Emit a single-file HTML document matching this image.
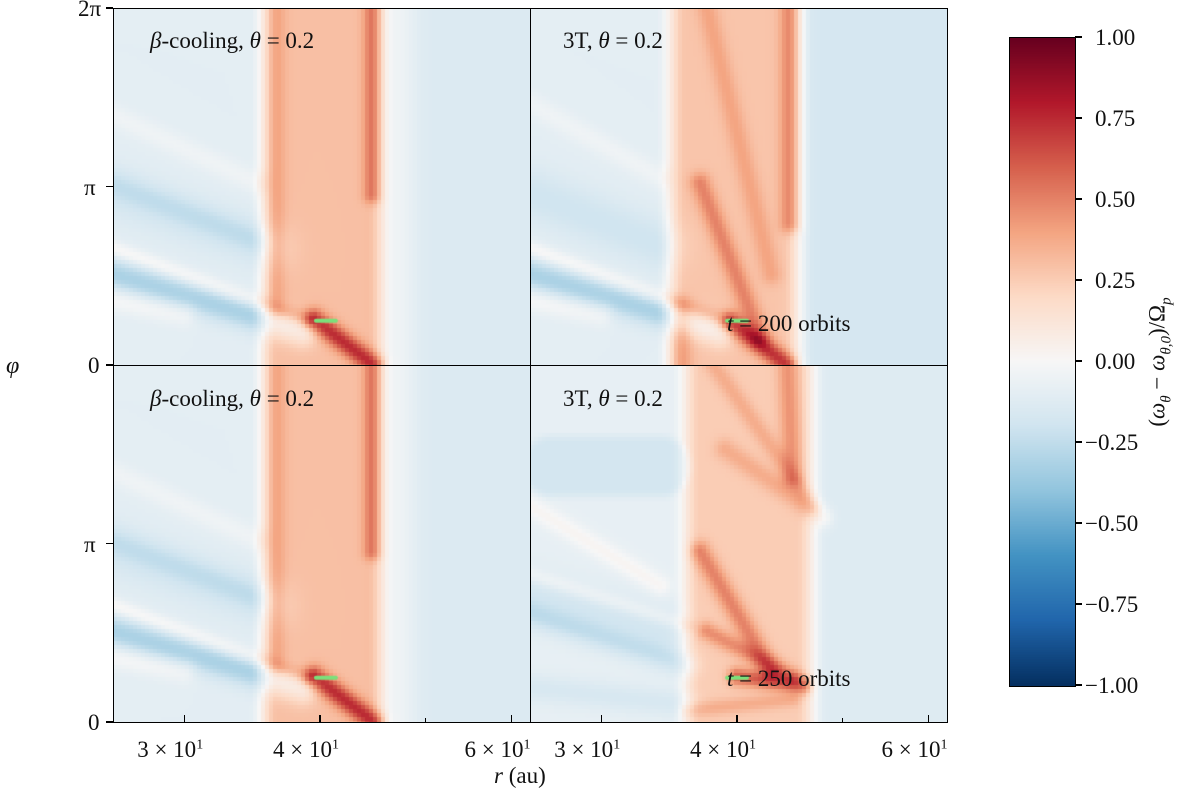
<!DOCTYPE html>
<html><head><meta charset="utf-8">
<style>
body{margin:0;background:#fff;width:1200px;height:796px;overflow:hidden;position:relative;font-family:"Liberation Serif","DejaVu Serif",serif;color:#111}
.t{position:absolute;white-space:nowrap;font-size:23px;line-height:1}
canvas{position:absolute}
.frame{position:absolute;border:1.3px solid #000;box-sizing:border-box}
.tk{position:absolute;background:#000}
i{font-style:italic}
</style></head><body>
<canvas id="p0" style="left:113px;top:8px" width="417" height="357"></canvas>
<canvas id="p1" style="left:530px;top:8px" width="417" height="357"></canvas>
<canvas id="p2" style="left:113px;top:365px" width="417" height="357"></canvas>
<canvas id="p3" style="left:530px;top:365px" width="417" height="357"></canvas>
<canvas id="cb" style="left:1009px;top:37px" width="66" height="649"></canvas>
<div class="frame" style="left:113px;top:8px;width:418px;height:358px"></div>
<div class="frame" style="left:530px;top:8px;width:418px;height:358px"></div>
<div class="frame" style="left:113px;top:365px;width:418px;height:358px"></div>
<div class="frame" style="left:530px;top:365px;width:418px;height:358px"></div>
<div class="frame" style="left:1009px;top:37px;width:67px;height:650px"></div>

<div class="t" style="left:150px;top:29px"><i>β</i>-cooling, <i>θ</i> = 0.2</div>
<div class="t" style="left:563px;top:29px">3T, <i>θ</i> = 0.2</div>
<div class="t" style="left:150px;top:387px"><i>β</i>-cooling, <i>θ</i> = 0.2</div>
<div class="t" style="left:563px;top:387px">3T, <i>θ</i> = 0.2</div>
<div class="t" style="left:727px;top:312px"><i>t</i> = 200 orbits</div>
<div class="t" style="left:727px;top:667px"><i>t</i> = 250 orbits</div>

<div class="t" style="left:6px;top:354px;font-size:24px"><i>φ</i></div>
<div class="t" style="left:494px;top:764px"><i>r</i> (au)</div>
<div class="t" style="left:1160px;top:362px;transform:translate(-50%,-50%) rotate(-90deg);transform-origin:center">(<i>ω<sub style="font-size:15px">θ</sub></i> − <i>ω<sub style="font-size:15px">θ,0</sub></i>)/Ω<sub style="font-size:15px"><i>p</i></sub></div>
<div id="ann"></div>

<script>
// ---- data ----
var rMin = 25.8, rMax = 62.4, phiMax = 2*Math.PI;
var xTickVals = [30, 40, 60];
var xTickLabels = ["3 × 10", "4 × 10", "6 × 10"];
var xMinorVals = [50];
var yTickVals = [0, Math.PI, 2*Math.PI];
var yTickLabels = ["0", "π", "2π"];
var cbTickVals = [1, 0.75, 0.5, 0.25, 0, -0.25, -0.5, -0.75, -1];
var cbTickLabels = ["1.00","0.75","0.50","0.25","0.00","−0.25","−0.50","−0.75","−1.00"];
var planetR = [40.5, 40.0, 40.5, 40.0];
var planetPhi = [0.78, 0.78, 0.78, 0.78];
var baseline = [-0.1, -0.1, -0.1, -0.08];
// features: [r0, phi0, r1, phi1, widthPx, amplitude]
var featTL = [
 [26,3.0,36,2.05,40,-0.08],
 [40.2,0,40.2,6.3,118,0.4],
 [36.5,1.0,36.5,6.3,14,0.1],
 [44.7,3.0,44.7,6.3,14,0.25],
 [47.3,0,47.3,6.3,30,0.08],
 [57,0,57,6.3,180,-0.04],
 [25.8,2.05,39,0.8,12,0.12],
 [25.8,1.6,38.5,0.6,24,-0.22],
 [25.8,1.15,30,0.9,18,0.1],
 [25.8,3.2,35,2.2,22,-0.08],
 [25.8,4.4,35,3.2,18,0.06],
 [39.5,0.8,44.8,0,16,0.45]
];
var featTR = [
 [26,3.0,34,2.1,40,-0.1],
 [39.8,0,39.8,6.3,128,0.38],
 [44.8,2.5,44.8,6.3,16,0.25],
 [37.5,6.3,43,1.6,16,0.12],
 [37,3.2,42,0.5,16,0.22],
 [56,0,56,6.3,200,-0.07],
 [25.8,2.05,39,0.8,12,0.12],
 [25.8,1.6,38.5,0.6,24,-0.22],
 [25.8,1.15,30,0.9,18,0.1],
 [25.8,4.6,34,3.3,18,0.06],
 [39.5,0.75,44.5,0,16,0.45],
 [35.5,0,35.5,1.0,18,0.15]
];
var featBL = featTL;
var featBR = [
 [27,4.5,34,4.5,60,-0.1],
 [26,2.2,34,1.6,40,-0.1],
 [41,0,41,6.3,126,0.33],
 [44.5,6.3,45,4.3,16,0.2],
 [38,6.3,47,3.8,14,0.12],
 [39,4.8,48,3.6,16,0.12],
 [37,3.0,43,0.9,16,0.25],
 [37.5,1.6,45,0.8,14,0.22],
 [25.8,3.8,34,2.4,16,0.1],
 [25.8,2.6,36,1.7,12,0.08],
 [25.8,1.9,36,1.0,20,-0.12],
 [26,0.6,36,0.3,22,-0.08],
 [57,0,57,6.3,180,-0.05],
 [40,0.8,46,0.65,14,0.35],
 [36,0.2,45,0.4,12,0.12]
];
var panelFeats = [featTL, featTR, featBL, featBR];

// RdBu_r colormap stops
var cmapVals = [-1,-0.8,-0.6,-0.4,-0.2,0,0.2,0.4,0.6,0.8,1];
var cmapCols = ["#053061","#2166ac","#4393c3","#92c5de","#d1e5f0","#f7f7f7","#fddbc7","#f4a582","#d6604d","#b2182b","#67001f"];

// ---- scales ----
var PW = 417, PH = 357;
function xScale(r){ return (Math.log10(r)-Math.log10(rMin))/(Math.log10(rMax)-Math.log10(rMin))*PW; }
function yScale(p){ return PH - p/phiMax*PH; }
function hex(c){ return [parseInt(c.substr(1,2),16),parseInt(c.substr(3,2),16),parseInt(c.substr(5,2),16)]; }
var cmapRGB = cmapCols.map(hex);
function cmap(v){
  v = Math.max(-1, Math.min(1, v));
  for (var i=0;i<cmapVals.length-1;i++){
    if (v <= cmapVals[i+1]){
      var t=(v-cmapVals[i])/(cmapVals[i+1]-cmapVals[i]);
      var a=cmapRGB[i], b=cmapRGB[i+1];
      return [a[0]+(b[0]-a[0])*t, a[1]+(b[1]-a[1])*t, a[2]+(b[2]-a[2])*t];
    }
  }
  return cmapRGB[cmapRGB.length-1];
}
function segDist(px,py,ax,ay,bx,by){
  var dx=bx-ax, dy=by-ay, L=dx*dx+dy*dy;
  var t = L>0 ? ((px-ax)*dx+(py-ay)*dy)/L : 0;
  t=Math.max(0,Math.min(1,t));
  var qx=ax+t*dx-px, qy=ay+t*dy-py;
  return Math.sqrt(qx*qx+qy*qy);
}
function drawPanel(idx){
  var c=document.getElementById('p'+idx), ctx=c.getContext('2d');
  var feats = panelFeats[idx].map(function(f){
    return [xScale(f[0]),yScale(f[1]),xScale(f[2]),yScale(f[3]),f[4],f[5]];
  });
  var cell=4;
  for (var y=0;y<PH;y+=cell){
    for (var x=0;x<PW;x+=cell){
      var v=baseline[idx], cx=x+cell/2, cy=y+cell/2;
      for (var k=0;k<feats.length;k++){
        var f=feats[k];
        var d=segDist(cx,cy,f[0],f[1],f[2],f[3]);
        var w;
        if (f[4] >= 60) {
          var h=f[4]/2, s=Math.max(4,f[4]*0.12);
          w = d<h-s?1:(d>h+s?0:0.5-0.5*Math.sin(Math.PI*(d-h)/(2*s)));
        } else {
          var sg=f[4]/2.2;
          w = Math.exp(-(d*d)/(2*sg*sg));
        }
        v+=f[5]*w;
      }
      var col=cmap(v);
      ctx.fillStyle='rgb('+(col[0]|0)+','+(col[1]|0)+','+(col[2]|0)+')';
      ctx.fillRect(x,y,cell,cell);
    }
  }
  ctx.strokeStyle='#7be07b'; ctx.lineWidth=4; ctx.lineCap='round';
  var px=xScale(planetR[idx]), py=yScale(planetPhi[idx]);
  ctx.beginPath(); ctx.moveTo(px-10,py); ctx.lineTo(px+10,py); ctx.stroke();
}
for (var i=0;i<4;i++) drawPanel(i);

(function(){
  var c=document.getElementById('cb'), ctx=c.getContext('2d');
  for (var y=0;y<649;y++){
    var col=cmap(1-2*y/648);
    ctx.fillStyle='rgb('+(col[0]|0)+','+(col[1]|0)+','+(col[2]|0)+')';
    ctx.fillRect(0,y,66,1);
  }
})();

var ann=document.getElementById('ann');
function add(html, css, name){
  var d=document.createElement('div');
  d.className=css.cls||'t';
  d.innerHTML=html;
  for (var k in css) if(k!=='cls') d.style[k]=css[k];
  
  
  ann.appendChild(d);
}
[113,530].forEach(function(ox){
  xTickVals.forEach(function(v,i){
    var x=ox+xScale(v);
    add('', {cls:'tk',left:(x-0.6)+'px',top:'715px',width:'1.3px',height:'7px'}, 'x-tick');
    add(xTickLabels[i]+'<sup style="font-size:14px">1</sup>', {left:(x-47)+'px',top:'738px'}, 'x-tick-label');
  });
  xMinorVals.forEach(function(v){
    var x=ox+xScale(v);
    add('', {cls:'tk',left:(x-0.5)+'px',top:'718px',width:'1px',height:'4px'}, 'x-minor-tick');
  });
});
[8,365].forEach(function(oy){
  yTickVals.forEach(function(v,i){
    if (oy===365 && i===2) return;
    var y=oy+yScale(v);
    add('', {cls:'tk',left:'106px',top:(y-0.6)+'px',width:'7px',height:'1.3px'}, 'y-tick');
    add(yTickLabels[i], {left:(i===2?78:(i===1?84:88))+'px',top:(y-11)+'px'}, 'y-tick-label');
  });
});
cbTickVals.forEach(function(v,i){
  var y=37+(1-v)/2*648;
  add('', {cls:'tk',left:'1075px',top:(y-0.6)+'px',width:'7px',height:'1.3px'}, 'colorbar-tick');
  add(cbTickLabels[i], {left:(v<0?1085:1095)+'px',top:(y-11)+'px'}, 'colorbar-tick-label');
});
</script>
</body></html>
